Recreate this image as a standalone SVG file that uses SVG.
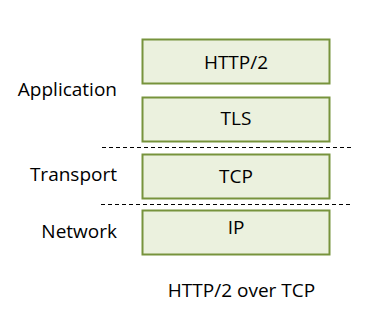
<svg xmlns="http://www.w3.org/2000/svg" width="370" height="327" viewBox="0 0 370 327">
<style>
.box{fill:#EBF1DE;stroke:#77933C;stroke-width:2}
.t{font-family:"Open Sans","Noto Sans",sans-serif;font-size:19px;fill:#000}
.c{text-anchor:middle}
.r{text-anchor:end}
.d{stroke:#000;stroke-width:1;stroke-dasharray:4 3;fill:none}
</style>
<rect width="370" height="327" fill="#fff"/>
<g id="layer-labels">
<text class="t r" x="117" y="96">Application</text>
<text class="t r" x="117" y="181">Transport</text>
<text class="t r" x="117" y="238">Network</text>
</g>
<g id="node-http2"><rect class="box" x="142.5" y="39.5" width="187" height="44"/><text class="t c" x="236" y="69">HTTP/2</text></g>
<g id="node-tls"><rect class="box" x="142.5" y="97.5" width="187" height="44"/><text class="t c" x="236" y="125">TLS</text></g>
<g id="node-tcp"><rect class="box" x="142.5" y="154.5" width="187" height="44"/><text class="t c" x="236" y="183">TCP</text></g>
<g id="node-ip"><rect class="box" x="142.5" y="210.5" width="187" height="44"/><text class="t c" x="236" y="234">IP</text></g>
<g id="connectors">
<line class="d" x1="102" y1="147.5" x2="351" y2="147.5"/>
<line class="d" x1="101" y1="204.5" x2="351" y2="204.5"/>
</g>
<text class="t c" x="241.5" y="297">HTTP/2 over TCP</text>
</svg>
